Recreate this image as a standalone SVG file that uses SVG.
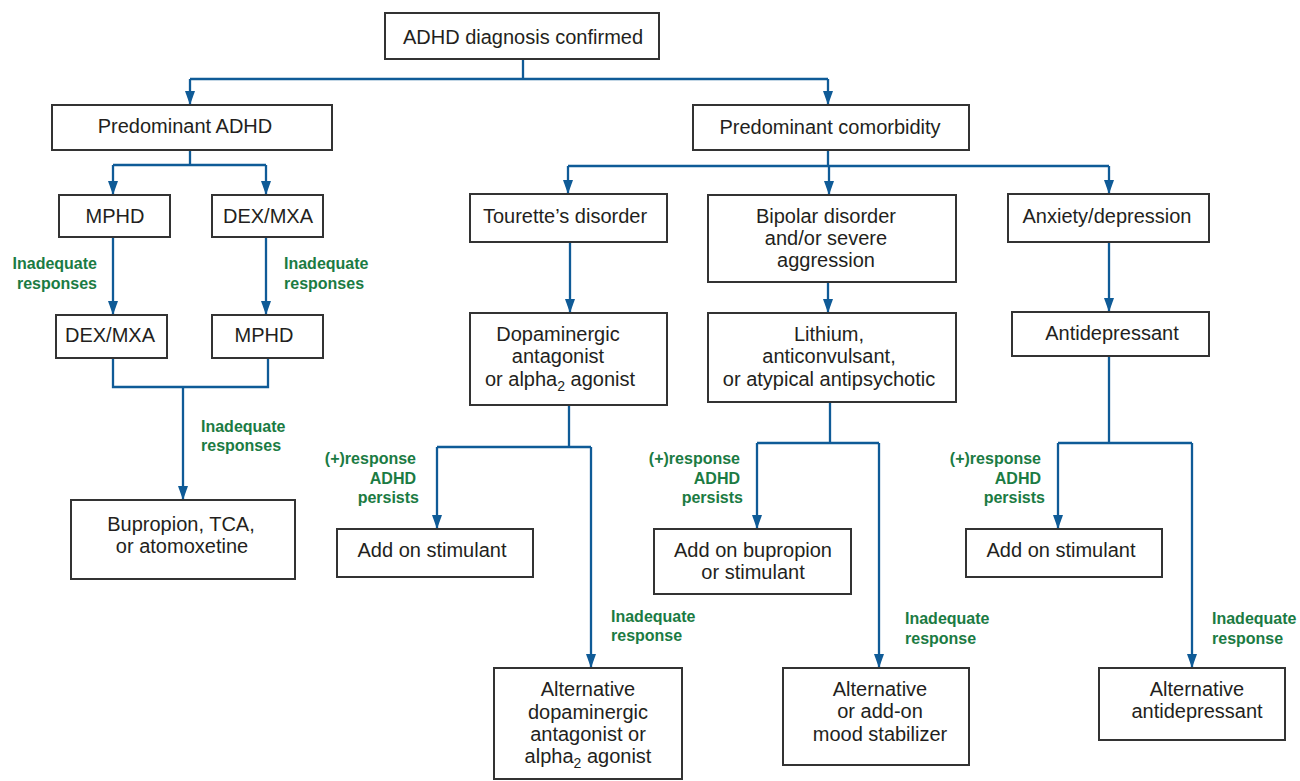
<svg xmlns="http://www.w3.org/2000/svg" width="1300" height="781" viewBox="0 0 1300 781">
<defs>
<marker id="ah" markerUnits="userSpaceOnUse" markerWidth="14" markerHeight="10" refX="14" refY="5" orient="auto">
<path d="M0,0 L14,5 L0,10 z" fill="#0f5b97"/>
</marker>
<style>
.box{fill:#fff;stroke:#333;stroke-width:2}
.t{font-family:"Liberation Sans",Arial,sans-serif;font-size:20px;fill:#231f20;text-anchor:middle}
.g{font-family:"Liberation Sans",Arial,sans-serif;font-size:16px;font-weight:bold;fill:#1b7b43}
.e{text-anchor:end}
.c{fill:none;stroke:#0f5b97;stroke-width:2.3}
.a{marker-end:url(#ah)}
.sub{font-size:14px}
</style>
</defs>
<rect width="1300" height="781" fill="#fff"/>
<g id="connectors">
<path class="c" d="M523,59 V79 M190,79 H828"/>
<path class="c a" d="M190,79 V105"/>
<path class="c a" d="M828,79 V105"/>
<path class="c" d="M190,150 V165 M113,165 H266"/>
<path class="c a" d="M113,165 V195"/>
<path class="c a" d="M266,165 V195"/>
<path class="c a" d="M113,237 V315"/>
<path class="c a" d="M266,237 V315"/>
<path class="c" d="M113,358 V387 H268 V358"/>
<path class="c a" d="M183,387 V500"/>
<path class="c" d="M828,150 V166 M568,166 H1109"/>
<path class="c a" d="M568,166 V194"/>
<path class="c a" d="M829,166 V195"/>
<path class="c a" d="M1109,166 V194"/>
<path class="c a" d="M570,242 V313"/>
<path class="c a" d="M828,282 V313"/>
<path class="c a" d="M1109,242 V312"/>
<path class="c" d="M569,405 V447 M437,447 H591"/>
<path class="c a" d="M437,447 V529"/>
<path class="c a" d="M591,447 V668"/>
<path class="c" d="M830,402 V443 M757,443 H879"/>
<path class="c a" d="M757,443 V529"/>
<path class="c a" d="M879,443 V668"/>
<path class="c" d="M1109,356 V443 M1058,443 H1192"/>
<path class="c a" d="M1058,443 V529"/>
<path class="c a" d="M1192,443 V668"/>
</g>
<g id="labels">
<text class="g e" x="97" y="269">Inadequate</text>
<text class="g e" x="97" y="289">responses</text>
<text class="g" x="284" y="269">Inadequate</text>
<text class="g" x="284" y="289">responses</text>
<text class="g" x="201" y="432">Inadequate</text>
<text class="g" x="201" y="451">responses</text>
<text class="g e" x="416" y="464">(+)response</text>
<text class="g e" x="416" y="484">ADHD</text>
<text class="g e" x="419" y="503">persists</text>
<text class="g e" x="740" y="464">(+)response</text>
<text class="g e" x="740" y="484">ADHD</text>
<text class="g e" x="743" y="503">persists</text>
<text class="g e" x="1041" y="464">(+)response</text>
<text class="g e" x="1041" y="484">ADHD</text>
<text class="g e" x="1045" y="503">persists</text>
<text class="g" x="611" y="622">Inadequate</text>
<text class="g" x="611" y="641">response</text>
<text class="g" x="905" y="624">Inadequate</text>
<text class="g" x="905" y="644">response</text>
<text class="g" x="1212" y="624">Inadequate</text>
<text class="g" x="1212" y="644">response</text>
</g>
<g id="n-top"><rect class="box" x="385" y="13" width="274" height="46"/><text class="t" x="523" y="44">ADHD diagnosis confirmed</text></g>
<g id="n-pred-adhd"><rect class="box" x="52" y="105" width="280" height="45"/><text class="t" x="185" y="133">Predominant ADHD</text></g>
<g id="n-pred-comorb"><rect class="box" x="693" y="105" width="276" height="45"/><text class="t" x="830" y="134">Predominant comorbidity</text></g>
<g id="n-mphd1"><rect class="box" x="59" y="195" width="111" height="42"/><text class="t" x="115" y="223">MPHD</text></g>
<g id="n-dex1"><rect class="box" x="212" y="195" width="111" height="42"/><text class="t" x="268" y="223">DEX/MXA</text></g>
<g id="n-dex2"><rect class="box" x="56" y="315" width="111" height="43"/><text class="t" x="110" y="342">DEX/MXA</text></g>
<g id="n-mphd2"><rect class="box" x="212" y="315" width="111" height="43"/><text class="t" x="264" y="342">MPHD</text></g>
<g id="n-bup"><rect class="box" x="71" y="500" width="224" height="79"/><text class="t" x="181" y="531">Bupropion, TCA,</text><text class="t" x="182" y="553">or atomoxetine</text></g>
<g id="n-tour"><rect class="box" x="470" y="194" width="197" height="48"/><text class="t" x="565" y="223">Tourette’s disorder</text></g>
<g id="n-dopa"><rect class="box" x="470" y="313" width="197" height="92"/><text class="t" x="558" y="341">Dopaminergic</text><text class="t" x="558" y="363">antagonist</text><text class="t" x="560" y="386">or alpha<tspan class="sub" dy="5">2</tspan><tspan dy="-5"> agonist</tspan></text></g>
<g id="n-addstim1"><rect class="box" x="337" y="529" width="196" height="48"/><text class="t" x="432" y="557">Add on stimulant</text></g>
<g id="n-altdopa"><rect class="box" x="494" y="668" width="188" height="111"/><text class="t" x="588" y="696">Alternative</text><text class="t" x="588" y="719">dopaminergic</text><text class="t" x="588" y="741">antagonist or</text><text class="t" x="588" y="763">alpha<tspan class="sub" dy="5">2</tspan><tspan dy="-5"> agonist</tspan></text></g>
<g id="n-bipolar"><rect class="box" x="708" y="195" width="248" height="87"/><text class="t" x="826" y="223">Bipolar disorder</text><text class="t" x="826" y="245">and/or severe</text><text class="t" x="826" y="267">aggression</text></g>
<g id="n-lithium"><rect class="box" x="708" y="313" width="248" height="89"/><text class="t" x="829" y="341">Lithium,</text><text class="t" x="829" y="363">anticonvulsant,</text><text class="t" x="829" y="386">or atypical antipsychotic</text></g>
<g id="n-addbup"><rect class="box" x="654" y="529" width="197" height="65"/><text class="t" x="753" y="557">Add on bupropion</text><text class="t" x="753" y="579">or stimulant</text></g>
<g id="n-altmood"><rect class="box" x="783" y="668" width="186" height="97"/><text class="t" x="880" y="696">Alternative</text><text class="t" x="880" y="718">or add-on</text><text class="t" x="880" y="741">mood stabilizer</text></g>
<g id="n-anx"><rect class="box" x="1008" y="194" width="201" height="48"/><text class="t" x="1107" y="223">Anxiety/depression</text></g>
<g id="n-antidep"><rect class="box" x="1012" y="312" width="197" height="44"/><text class="t" x="1112" y="340">Antidepressant</text></g>
<g id="n-addstim2"><rect class="box" x="966" y="529" width="196" height="48"/><text class="t" x="1061" y="557">Add on stimulant</text></g>
<g id="n-altantidep"><rect class="box" x="1099" y="668" width="186" height="72"/><text class="t" x="1197" y="696">Alternative</text><text class="t" x="1197" y="718">antidepressant</text></g>
</svg>
